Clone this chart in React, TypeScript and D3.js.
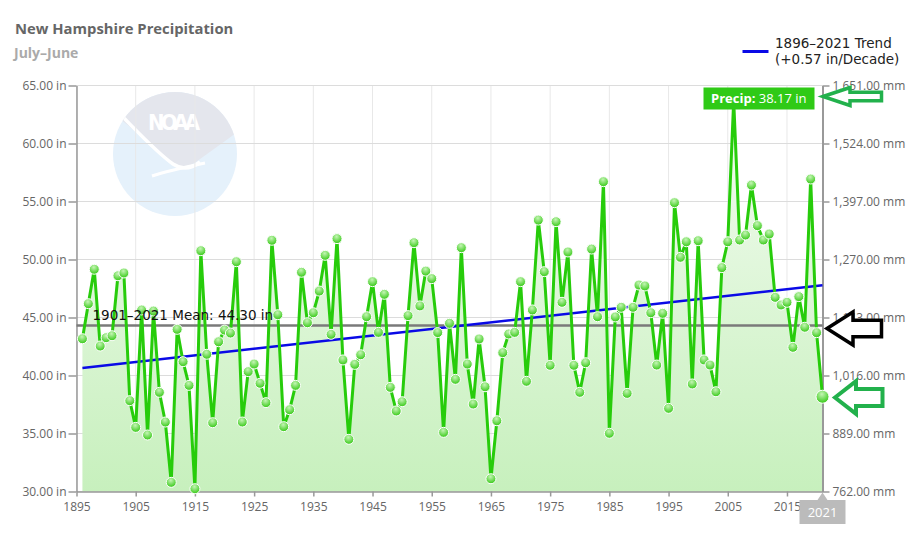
import React from "react";
import * as d3 from "d3";

// July–June precipitation totals (inches), one value per year from 1896
const firstYear = 1896;
const precip = [
  43.17, 46.19, 49.16, 42.54, 43.26, // 1896-1900
  43.43, 48.6, 48.84, 37.83, 35.53, 45.65, 34.87, 45.56, 38.55, 35.99, // 1901-1910
  30.79, 43.98, 41.19, 39.15, 30.24, 50.76, 41.83, 35.93, 42.91, 43.92, // 1911-1920
  43.66, 49.81, 35.99, 40.33, 40.99, 39.33, 37.66, 51.66, 45.24, 35.59, // 1921-1930
  37.05, 39.15, 48.9, 44.55, 45.41, 47.28, 50.36, 43.55, 51.8, 41.34, // 1931-1940
  34.5, 40.96, 41.79, 45.07, 48.09, 43.72, 47.0, 38.98, 36.94, 37.74, // 1941-1950
  45.16, 51.45, 46.0, 49.0, 48.35, 43.7, 35.1, 44.5, 39.67, 51.02, // 1951-1960
  40.99, 37.54, 43.15, 39.03, 31.1, 36.1, 41.97, 43.58, 43.72, 48.09, // 1961-1970
  39.5, 45.65, 53.4, 48.95, 40.88, 53.26, 46.31, 50.65, 40.88, 38.55, // 1971-1980
  41.1, 50.9, 45.07, 56.71, 35.02, 45.05, 45.88, 38.46, 45.88, 47.8, // 1981-1990
  47.72, 45.41, 40.9, 45.36, 37.17, 54.9, 50.19, 51.53, 39.27, 51.62, // 1991-2000
  41.34, 40.9, 38.6, 49.3, 51.53, 63.7, 51.68, 52.11, 56.42, 52.92, // 2001-2010
  51.68, 52.2, 46.74, 46.08, 46.31, 42.43, 46.8, 44.16, 56.94, 43.69, // 2011-2020
  38.17, // 2021
];

const yTicks = [30, 35, 40, 45, 50, 55, 60, 65];
const xTicks = [1895, 1905, 1915, 1925, 1935, 1945, 1955, 1965, 1975, 1985, 1995, 2005, 2015];
const meanValue = 44.3;
const meanLabel = "1901–2021 Mean: 44.30 in";
const trendPerDecade = 0.57;
const trendLabel = ["1896–2021 Trend", "(+0.57 in/Decade)"];
const title = "New Hampshire Precipitation";
const subtitle = "July–June";

const W = 921;
const H = 543;
const plot = { left: 76.5, right: 822.5, top: 85.5, bottom: 491.5 };

// hollow block arrow pointing left
function arrowPath(tx: number, ty: number, back: number, tail: number, hh: number, sh: number) {
  return `M${tx},${ty} L${back},${ty - hh} L${back},${ty - sh} L${tail},${ty - sh} L${tail},${ty + sh} L${back},${ty + sh} L${back},${ty + hh} Z`;
}

export default function App() {
  const svgRef = React.useRef<SVGSVGElement>(null);

  React.useEffect(() => {
    const svg = d3.select(svgRef.current);
    svg.selectAll("*").remove();

    const data = precip.map((v, i) => ({ year: firstYear + i, value: v }));
    const lastYear = firstYear + precip.length - 1;

    const x = d3.scaleLinear().domain([1895, lastYear]).range([plot.left, plot.right]);
    const y = d3.scaleLinear().domain([30, 65]).range([plot.bottom, plot.top]);

    const defs = svg.append("defs");
    const areaGrad = defs.append("linearGradient").attr("id", "areaGrad")
      .attr("x1", 0).attr("y1", 0).attr("x2", 0).attr("y2", 1);
    areaGrad.append("stop").attr("offset", "0%").attr("stop-color", "#f4fcf2");
    areaGrad.append("stop").attr("offset", "100%").attr("stop-color", "#c7f0bd");
    const ptGrad = defs.append("radialGradient").attr("id", "ptGrad")
      .attr("cx", "45%").attr("cy", "30%").attr("r", "70%");
    ptGrad.append("stop").attr("offset", "0%").attr("stop-color", "#c4f5b4");
    ptGrad.append("stop").attr("offset", "100%").attr("stop-color", "#34c914");
    defs.append("clipPath").attr("id", "logoClip")
      .append("circle").attr("cx", 175).attr("cy", 154).attr("r", 62);

    // faint NOAA watermark
    const logo = svg.append("g");
    logo.append("circle").attr("cx", 175).attr("cy", 154).attr("r", 62).attr("fill", "#e5f1fb");
    logo.append("path").attr("clip-path", "url(#logoClip)")
      .attr("d", "M110,112 C128,95 160,90 180,91 C206,92 226,103 240,122 L240,130 C226,140 210,152 196,162 C186,169 176,168 168,161 C152,147 134,128 110,112 Z")
      .attr("fill", "#e4e6ed");
    logo.append("path").attr("clip-path", "url(#logoClip)")
      .attr("d", "M116,110 C136,130 156,152 173,164 C182,170 191,169 200,162")
      .attr("fill", "none").attr("stroke", "#fff").attr("stroke-width", 3.5);
    logo.append("path")
      .attr("d", "M152,176 C167,171 186,167 205,163")
      .attr("fill", "none").attr("stroke", "#fff").attr("stroke-width", 3);
    logo.append("text").attr("x", 174).attr("y", 130).attr("text-anchor", "middle")
      .attr("font-family", "DejaVu Sans Condensed").attr("font-weight", "bold").attr("font-size", 22)
      .attr("textLength", 52).attr("fill", "#fff").text("NOAA");

    // grid
    svg.append("g").selectAll("line").data(xTicks).join("line")
      .attr("x1", (d) => x(d)).attr("x2", (d) => x(d))
      .attr("y1", plot.top).attr("y2", plot.bottom)
      .attr("stroke", "#e8e8e8").attr("stroke-width", 1);
    svg.append("g").selectAll("line").data(yTicks).join("line")
      .attr("x1", plot.left).attr("x2", plot.right)
      .attr("y1", (d) => y(d)).attr("y2", (d) => y(d))
      .attr("stroke", "#dcdcdc").attr("stroke-width", 1.2);

    // area under the series
    const area = d3.area<{ year: number; value: number }>()
      .x((d) => x(d.year)).y0(y(30)).y1((d) => y(d.value));
    svg.append("path").datum(data).attr("d", area).attr("fill", "url(#areaGrad)");

    // axes
    const axisStyle = (g: d3.Selection<SVGGElement, unknown, null, undefined>) => {
      g.select(".domain").attr("stroke", "#999").attr("stroke-width", 1.5);
      g.selectAll(".tick line").attr("stroke", "#999").attr("stroke-width", 1.5);
      g.selectAll("text").attr("fill", "#666").attr("font-family", "Open Sans").attr("font-size", 12);
    };
    svg.append("g").attr("transform", `translate(${plot.left},0)`)
      .call(d3.axisLeft(y).tickValues(yTicks).tickSize(8).tickPadding(2).tickSizeOuter(0)
        .tickFormat((d) => `${(+d).toFixed(2)} in`))
      .call(axisStyle);
    svg.append("g").attr("transform", `translate(${plot.right},0)`)
      .call(d3.axisRight(y).tickValues(yTicks).tickSize(7).tickPadding(3).tickSizeOuter(0)
        .tickFormat((d) => `${d3.format(",.2f")(+d * 25.4)} mm`))
      .call(axisStyle)
      .call((g) => g.select(".domain").attr("stroke-width", 2));
    svg.append("g").attr("transform", `translate(0,${plot.bottom})`)
      .call(d3.axisBottom(x).tickValues(xTicks).tickSize(5).tickPadding(6).tickSizeOuter(0)
        .tickFormat((d) => String(d)))
      .call(axisStyle);

    // mean line
    svg.append("line")
      .attr("x1", plot.left).attr("x2", plot.right)
      .attr("y1", y(meanValue)).attr("y2", y(meanValue))
      .attr("stroke", "#7a7a7a").attr("stroke-width", 2.5);

    // linear trend through the centroid of the record
    const slope = trendPerDecade / 10;
    const mx = d3.mean(data, (d) => d.year) as number;
    const my = d3.mean(data, (d) => d.value) as number;
    const trendAt = (yr: number) => my + slope * (yr - mx);
    svg.append("line")
      .attr("x1", x(firstYear)).attr("x2", x(lastYear))
      .attr("y1", y(trendAt(firstYear))).attr("y2", y(trendAt(lastYear)))
      .attr("stroke", "#0a0ae6").attr("stroke-width", 2.5);

    // series
    const line = d3.line<{ year: number; value: number }>()
      .x((d) => x(d.year)).y((d) => y(d.value));
    svg.append("path").datum(data).attr("d", line)
      .attr("fill", "none").attr("stroke", "#27cc0b").attr("stroke-width", 3)
      .attr("stroke-linejoin", "round");
    svg.append("g").selectAll("circle").data(data).join("circle")
      .attr("cx", (d) => x(d.year)).attr("cy", (d) => y(d.value))
      .attr("r", (d) => (d.year === lastYear ? 6.5 : 5))
      .attr("fill", "url(#ptGrad)").attr("stroke", "#fff").attr("stroke-width", 1);

    // mean label
    svg.append("text").attr("x", 92.5).attr("y", y(meanValue) - 6)
      .attr("font-family", "DejaVu Sans").attr("font-size", 13.5).attr("fill", "#111")
      .text(meanLabel);

    // legend
    svg.append("line").attr("x1", 742.5).attr("x2", 768.5).attr("y1", 51.5).attr("y2", 51.5)
      .attr("stroke", "#0a0ae6").attr("stroke-width", 3);
    svg.append("g").selectAll("text").data(trendLabel).join("text")
      .attr("x", 775).attr("y", (_, i) => 48 + i * 15.5)
      .attr("font-family", "DejaVu Sans").attr("font-size", 13.5).attr("fill", "#222")
      .text((d) => d);

    // title and subtitle
    svg.append("text").attr("x", 15).attr("y", 34)
      .attr("font-family", "Open Sans").attr("font-weight", "bold").attr("font-size", 14.8)
      .attr("fill", "#666").text(title);
    svg.append("text").attr("x", 14).attr("y", 58)
      .attr("font-family", "Open Sans").attr("font-weight", "bold").attr("font-size", 14)
      .attr("fill", "#aaa").text(subtitle);

    // hover tooltip for the latest year
    const last = data[data.length - 1];
    const tip = svg.append("g");
    tip.append("rect").attr("x", 703.5).attr("y", 87.5).attr("width", 111).attr("height", 22)
      .attr("fill", "#2fca16");
    const tipText = tip.append("text").attr("x", 711).attr("y", 103)
      .attr("font-family", "Open Sans").attr("font-size", 13).attr("fill", "#fff");
    tipText.append("tspan").attr("font-weight", "bold").text("Precip:");
    tipText.append("tspan").text(` ${last.value.toFixed(2)} in`);

    // crosshair year label under the axis
    const lx = x(last.year);
    const yl = svg.append("g");
    yl.append("path")
      .attr("d", `M${lx - 23},500 L${lx - 5},500 L${lx},${plot.bottom + 1} L${lx + 5},500 L${lx + 23},500 L${lx + 23},524 L${lx - 23},524 Z`)
      .attr("fill", "#bbb");
    yl.append("text").attr("x", lx).attr("y", 517).attr("text-anchor", "middle")
      .attr("font-family", "Open Sans").attr("font-size", 13).attr("fill", "#fff")
      .text(String(last.year));

    // pointer arrows
    svg.append("path").attr("d", arrowPath(823, 96.5, 850, 881.5, 9, 4.3))
      .attr("fill", "#fff").attr("stroke", "#22b14c").attr("stroke-width", 3.5)
      .attr("stroke-linejoin", "miter");
    svg.append("path").attr("d", arrowPath(827, 328.5, 853, 881.5, 16.5, 8.3))
      .attr("fill", "#fff").attr("stroke", "#000").attr("stroke-width", 3.5);
    svg.append("path").attr("d", arrowPath(835, 397.5, 856, 882.5, 16.3, 8.6))
      .attr("fill", "#fff").attr("stroke", "#22b14c").attr("stroke-width", 4);
  }, []);

  return (
    <svg
      ref={svgRef}
      width={W}
      height={H}
      style={{ position: "absolute", left: 0, top: 0, background: "#fff" }}
    />
  );
}
